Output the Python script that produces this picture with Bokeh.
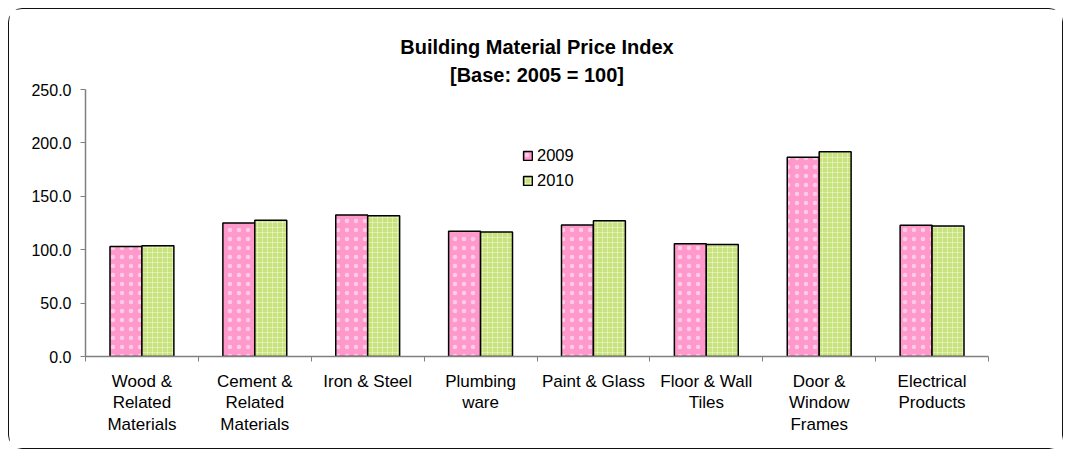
import numpy as np
from bokeh.plotting import figure
from bokeh.models import (ColumnDataSource, FixedTicker, NumeralTickFormatter, Legend,
                          LegendItem, Title, Range1d)
from bokeh.embed import file_html
from bokeh.resources import INLINE

categories = ["Wood &\nRelated\nMaterials", "Cement &\nRelated\nMaterials", "Iron & Steel",
              "Plumbing\nware", "Paint & Glass", "Floor & Wall\nTiles",
              "Door &\nWindow\nFrames", "Electrical\nProducts"]
series_names = ["2009", "2010"]
v2009 = [103.1, 125.0, 132.5, 117.2, 123.2, 105.6, 186.6, 122.8]
v2010 = [103.8, 127.5, 131.9, 116.6, 127.2, 104.8, 191.6, 122.2]
y_ticks = [0, 50, 100, 150, 200, 250]
title1 = "Building Material Price Index"
title2 = "[Base: 2005 = 100]"

n = len(categories)
centers = np.arange(n) + 0.5
bw = 0.283

FONT = "Liberation Sans"

p = figure(width=1055, height=441, output_backend="svg", toolbar_location=None,
           x_range=Range1d(0, n), y_range=Range1d(0, 250),
           min_border_left=76, min_border_right=76, min_border_top=80, min_border_bottom=94,
           background_fill_color="white", border_fill_color="white")
p.styles = {"border": "1.5px solid #111", "border-radius": "14px",
            "margin-left": "8px", "margin-top": "8px"}
p.outline_line_color = None
p.grid.grid_line_color = None

src = ColumnDataSource(dict(x1=centers - bw / 2, x2=centers + bw / 2, a=v2009, b=v2010))
r1 = p.vbar(x="x1", top="a", width=bw, source=src, fill_color="#FF99CC",
            line_color="black", line_width=1.5,
            hatch_pattern="dot", hatch_color="white", hatch_alpha=0.5,
            hatch_scale=9, hatch_weight=0.7)
r2 = p.vbar(x="x2", top="b", width=bw, source=src, fill_color="#C8E27C",
            line_color="black", line_width=1.5,
            hatch_pattern="cross", hatch_color="white", hatch_alpha=0.4,
            hatch_scale=5, hatch_weight=1)

# x axis
xa = p.xaxis[0]
xa.ticker = FixedTicker(ticks=list(centers), minor_ticks=list(range(n + 1)))
xa.major_label_overrides = {float(c): lab for c, lab in zip(centers, categories)}
xa.major_tick_out = 0
xa.major_tick_in = 0
xa.minor_tick_out = 5
xa.minor_tick_in = 0
xa.minor_tick_line_color = "#808080"
xa.axis_line_color = "#808080"
xa.axis_line_width = 1.5
xa.major_label_standoff = 10
xa.major_label_text_font = FONT
xa.major_label_text_font_size = "17px"
xa.major_label_text_color = "black"
xa.major_label_text_line_height = 1.15

# y axis
ya = p.yaxis[0]
ya.ticker = FixedTicker(ticks=y_ticks)
ya.formatter = NumeralTickFormatter(format="0.0")
ya.minor_tick_line_color = None
ya.major_tick_out = 5
ya.major_tick_in = 0
ya.major_tick_line_color = "#808080"
ya.axis_line_color = "#808080"
ya.axis_line_width = 1.5
ya.major_label_standoff = 9
ya.major_label_text_font = FONT
ya.major_label_text_font_size = "16px"
ya.major_label_text_color = "black"

# titles
t2 = Title(text=title2, align="center", text_font=FONT, text_font_size="20px",
           text_font_style="bold", text_color="black", standoff=8, text_line_height=1.0)
t1 = Title(text=title1, align="center", text_font=FONT, text_font_size="20px",
           text_font_style="bold", text_color="black", standoff=0, text_line_height=1.0)
p.add_layout(t2, "above")
p.add_layout(t1, "above")

legend = Legend(items=[LegendItem(label=series_names[0], renderers=[r1]),
                       LegendItem(label=series_names[1], renderers=[r2])],
                location=(437, 166), orientation="vertical",
                padding=0, margin=0, spacing=5, label_height=20,
                glyph_width=11, glyph_height=11, label_standoff=4,
                border_line_color=None, background_fill_alpha=0,
                label_text_font=FONT, label_text_font_size="16.5px", label_text_color="black")
p.add_layout(legend, "center")

open("out.html", "w").write(file_html(p, INLINE))
